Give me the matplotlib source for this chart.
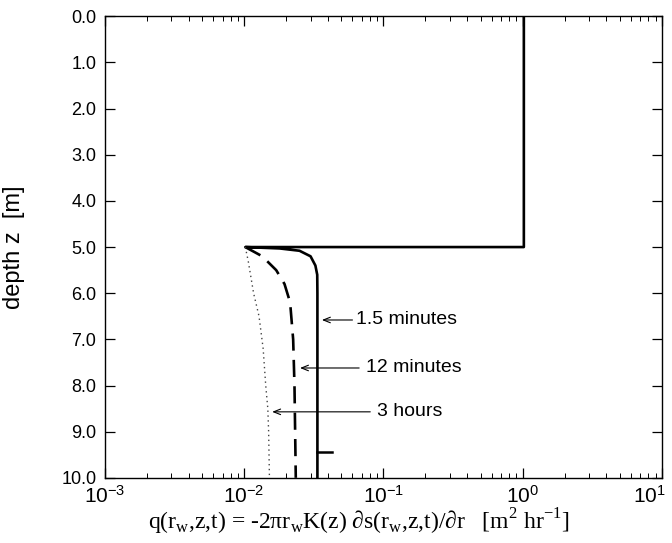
import numpy as np
import matplotlib
matplotlib.use('Agg')
import matplotlib.pyplot as plt
import matplotlib.transforms as mtransforms
from matplotlib.ticker import FixedLocator, FormatStrFormatter

plt.rcParams['font.family'] = ['Liberation Sans', 'DejaVu Sans']
plt.rcParams['mathtext.fontset'] = 'custom'
plt.rcParams['mathtext.rm'] = 'Liberation Sans'

# 1.5 minutes (solid)
z_15min = [0.0, 5.0, 5.0, 5.03, 5.08, 5.2, 5.4, 5.6, 6.0, 10.0]
q_15min = [1.02, 1.02, 0.0102, 0.018, 0.025, 0.030, 0.0325, 0.0335, 0.0336, 0.0336]
# little step at z ~ 9.44
z_step = [9.44, 9.44]
q_step = [0.0336, 0.043]

# 12 minutes (dashed)
z_12min = [5.0, 5.2, 5.5, 5.8, 6.2, 7.0, 8.0, 10.0]
q_12min = [0.0102, 0.0135, 0.017, 0.0195, 0.0214, 0.0225, 0.023, 0.0235]

# 3 hours (dotted)
z_3h = [5.0, 5.3, 6.0, 6.5, 7.2, 8.0, 8.5, 9.0, 10.0]
q_3h = [0.0102, 0.0107, 0.0117, 0.0128, 0.0137, 0.0143, 0.0148, 0.015, 0.0152]

# annotations: label, arrow tip q, depth, arrow tail q, text q
notes = [('1.5 minutes', 0.0362, 6.58, 0.060, 0.0635),
         ('12 minutes', 0.0252, 7.62, 0.067, 0.0755),
         ('3 hours', 0.0159, 8.57, 0.0805, 0.090)]

fig = plt.figure(figsize=(6.72, 5.43), dpi=100)
ax = fig.add_axes([0.156, 0.120, 0.829, 0.850])

ax.plot(q_15min, z_15min, color='black', lw=1.9)
ax.plot(q_step, z_step, color='black', lw=1.8)
ax.plot(q_12min, z_12min, color='black', lw=1.9, dashes=(6.5, 3.5))
ax.plot(q_3h, z_3h, color='#444444', lw=1.0, linestyle=(0, (1, 2.5)))

for label, qtip, ztip, qtail, qtxt in notes:
    ax.annotate('', xy=(qtip, ztip), xytext=(qtail, ztip),
                arrowprops=dict(arrowstyle='->,head_width=0.2,head_length=0.5',
                                color='black', lw=0.8, shrinkA=0, shrinkB=0))
    ax.text(qtxt, ztip, label, va='center', ha='left', fontsize=14)

ax.set_xscale('log')
ax.set_xlim(1e-3, 1e1)
ax.set_ylim(10, 0)
ax.yaxis.set_major_locator(FixedLocator(np.arange(0, 11, 1.0)))
ax.yaxis.set_major_formatter(FormatStrFormatter('%.1f'))
ax.tick_params(which='both', direction='in', top=True, right=True)
ax.tick_params(which='major', length=7, width=0.9)
ax.tick_params(which='minor', length=3.5, width=0.7)
ax.tick_params(axis='y', labelsize=13, pad=6)
ax.tick_params(axis='x', labelsize=15, pad=5)
for s in ax.spines.values():
    s.set_linewidth(1.0)

ax.set_ylabel('depth z  [m]', fontsize=17)
ax.yaxis.set_label_coords(-0.144, 0.5)
ax.set_xlabel(r'q(r$_\mathregular{w}$,z,t) = -2πr$_\mathregular{w}$K(z) ∂s(r$_\mathregular{w}$,z,t)/∂r   '
              r'[m$^\mathregular{2}$ hr$^\mathregular{-1}$]',
              fontsize=17, family=['Liberation Serif', 'DejaVu Serif'])
ax.xaxis.set_label_coords(0.455, -0.062)

# keep the last decade label inside the figure
fig.canvas.draw()
for lab in ax.get_xticklabels():
    if '{1}' in lab.get_text():
        lab.set_transform(lab.get_transform() +
                          mtransforms.ScaledTranslation(-9 / 72, 0, fig.dpi_scale_trans))

fig.savefig('out.png', dpi=100)
